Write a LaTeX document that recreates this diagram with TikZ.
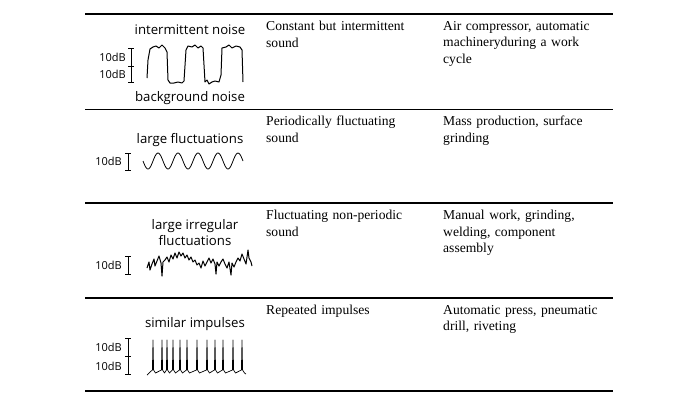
\documentclass[tikz,border=0pt]{standalone}
\usepackage{fontspec}
\usepackage[none]{hyphenat}
\setmainfont{Liberation Serif}
\newfontfamily\labelfont{Open Sans}
\begin{document}
\begin{tikzpicture}[x=1pt,y=-1pt,
    rowtext/.style={anchor=north west, align=left, text width=160pt, inner sep=0pt,
      font=\fontsize{13.6}{16.5}\selectfont},
    wavelabel/.style={inner sep=0pt, align=center, font=\labelfont\fontsize{13.2}{16}\selectfont},
    dblabel/.style={inner sep=0pt, anchor=east, font=\labelfont\fontsize{11}{10}\selectfont},
    wave/.style={line width=1pt, line join=round}]
    % Frame
    \useasboundingbox (0,0) rectangle (700,400);

    % Table rules
    \foreach \y/\w in {14/1.4,109/1,203/1.4,298/1.4,391/1.4} {
        \draw[line width=\w pt] (85,\y) -- (613,\y);
    }

    % Row 1: intermittent noise
    \node[wavelabel] (intlabel) at (190,30) {intermittent noise};
    \node[wavelabel] (bglabel) at (190,98) {background noise};
    \node[dblabel] (dbA) at (126,57) {10dB};
    \node[dblabel] (dbB) at (126,74) {10dB};
    \draw[semithick] (128,48) -- (134,48) (131,48) -- (131,82) (128,66) -- (134,66) (128,82) -- (134,82);
    \draw[wave] plot coordinates {(147,78) (148,60) (150,49) (153,47) (156,46) (159,48) (162,45) (165,48) (167,52) (168,80)
        (170,83) (174,83) (178,82) (182,83) (184,81) (186,50) (188,46) (192,47) (195,45) (198,48) (201,46) (203,48) (205,82)
        (207,80) (209,84) (212,82) (215,81) (219,82) (221,75) (222,48) (226,47) (229,45) (232,48) (236,46) (240,47) (242,50) (243,82)};

    % Row 2: large fluctuations
    \node[wavelabel] (fluclabel) at (190,140) {large fluctuations};
    \node[dblabel] (dbC) at (122,161) {10dB};
    \draw[semithick] (125,153) -- (131,153) (128,153) -- (128,170) (125,170) -- (131,170);
    \draw[wave, line width=0.8pt] plot[domain=143:243, samples=120, smooth] (\x,{161+8*sin(18*(\x-143))});

    % Row 3: large irregular fluctuations
    \node[wavelabel] (irrlabel) at (195,233) {large irregular\\fluctuations};
    \node[dblabel] (dbD) at (122,265) {10dB};
    \draw[semithick] (125,256) -- (131,256) (128,256) -- (128,274) (125,274) -- (131,274);
    \draw[wave] plot coordinates {(147,268) (149,262) (150,270) (152,264) (154,259) (155,266) (157,261) (159,256) (161,263) (162,276)
        (163,262) (165,260) (167,257) (169,262) (171,255) (173,259) (175,253) (177,258) (179,252) (181,256) (183,253) (185,258)
        (187,255) (189,260) (191,257) (193,262) (195,260) (197,265) (199,263) (201,268) (203,261) (205,266) (207,262) (209,258)
        (211,263) (213,259) (215,264) (216,274) (217,262) (219,266) (221,262) (223,259) (225,264) (227,268) (229,262) (231,275)
        (232,263) (234,267) (236,262) (238,258) (240,261) (242,254) (244,259) (246,264) (247,257) (248,250) (249,258) (251,262) (252,266)};

    % Row 4: similar impulses
    \node[wavelabel] (implabel) at (195,324) {similar impulses};
    \node[dblabel] (dbE) at (122,347) {10dB};
    \node[dblabel] (dbF) at (122,366) {10dB};
    \draw[semithick] (125,338) -- (131,338) (128,338) -- (128,374) (125,356) -- (131,356) (125,374) -- (131,374);
    \draw[wave, line width=0.7pt] (147,375) -- (150,372)
        \foreach \s in {153,162,167,173,180,187,197,207,215,223,233,242} {
            -- (\s-0.6,370) -- (\s,340) -- (\s+0.6,370) -- (\s+2.5,373)
        } -- (246,374);

    % Descriptions
    \node[rowtext] (typeA) at (266,21) {Constant but intermittent sound};
    \node[rowtext] (srcA) at (443,21) {Air compressor, automatic machineryduring a work cycle};
    \node[rowtext] (typeB) at (266,116) {Periodically fluctuating sound};
    \node[rowtext] (srcB) at (443,116) {Mass production, surface grinding};
    \node[rowtext] (typeC) at (266,210) {Fluctuating non-periodic sound};
    \node[rowtext] (srcC) at (443,210) {Manual work, grinding, welding, component assembly};
    \node[rowtext] (typeD) at (266,305) {Repeated impulses};
    \node[rowtext] (srcD) at (443,305) {Automatic press, pneumatic drill, riveting};
\end{tikzpicture}
\end{document}
